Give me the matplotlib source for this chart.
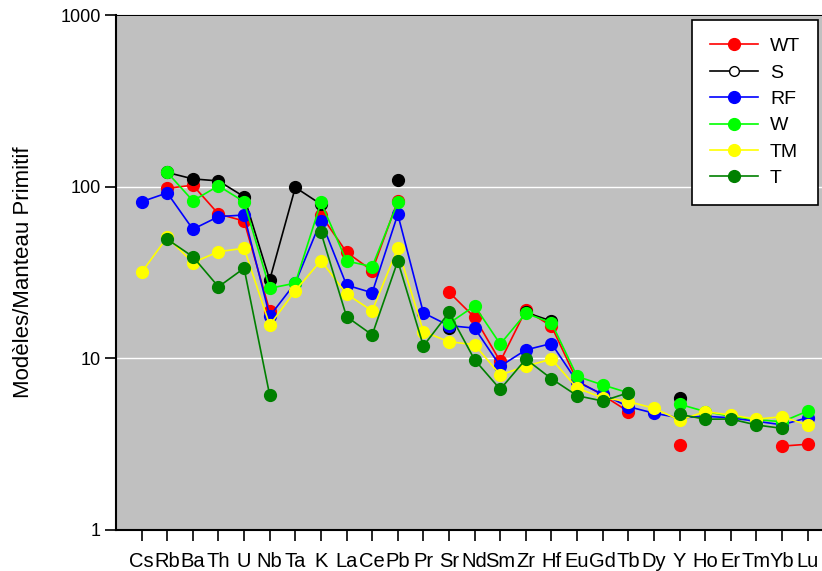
import numpy as np
import matplotlib
matplotlib.use("Agg")
from matplotlib import pyplot as plt
from matplotlib.lines import Line2D
from matplotlib.ticker import FixedLocator, NullLocator, FixedFormatter

nan = np.nan

# Elements along the x axis
elements = ["Cs", "Rb", "Ba", "Th", "U", "Nb", "Ta", "K", "La", "Ce", "Pb", "Pr", "Sr",
            "Nd", "Sm", "Zr", "Hf", "Eu", "Gd", "Tb", "Dy", "Y", "Ho", "Er", "Tm", "Yb", "Lu"]

# Normalised concentrations (nan = no value)
wt = [nan, 97.8, 102, 69.3, 63.1, 18.9, nan, 68.4, 41.5, 32.4, 82.8, nan, 24.3,
      17.3, 9.6, 19.1, 15.4, 7.4, 6.1, 4.9, nan, 3.13, nan, nan, nan, 3.08, 3.16]
s = [nan, 121, 111, 108, 87.4, 28.6, 99, 79, nan, nan, 109, nan, 15.1,
     nan, nan, 18.5, 16.5, nan, nan, nan, nan, 5.9, nan, nan, nan, nan, nan]
rf = [81.7, 92, 56.5, 66.9, 68.4, 17.6, 27.5, 63.4, 26.7, 24.1, 69, 18.4, 15.5,
      15.0, 9.0, 11.2, 12.2, 7.3, 6.17, 5.23, 4.79, 4.5, 4.6, 4.5, 4.3, 4.1, 4.51]
w = [nan, 121, 82.8, 101, 81.7, 25.6, 27.4, 81, 36.9, 34.2, 81, nan, 16.0,
     20.2, 12.1, 18.3, 16.1, 7.85, 7.0, 6.3, nan, 5.4, 4.9, 4.6, 4.4, 4.27, 4.93]
tm = [31.7, 50.7, 36.1, 41.8, 43.8, 15.6, 24.8, 37.1, 23.7, 18.9, 43.8, 14.3, 12.5,
      12.0, 8.0, 9.0, 9.9, 6.7, 5.9, 5.6, 5.12, 4.37, 4.89, 4.68, 4.42, 4.57, 4.09]
t = [nan, 49.4, 39.1, 26.1, 33.5, 6.1, nan, 54.2, 17.5, 13.7, 36.9, 11.8, 18.5,
     9.8, 6.6, 9.9, 7.6, 6.06, 5.64, 6.3, nan, 4.72, 4.42, 4.43, 4.09, 3.91, nan]

series = [("WT", wt, "#ff0000"), ("S", s, "#000000"), ("RF", rf, "#0000ff"),
          ("W", w, "#00ff00"), ("TM", tm, "#ffff00"), ("T", t, "#008000")]

plt.rcParams['font.family'] = ['Liberation Sans', 'DejaVu Sans']

fig = plt.figure(figsize=(8.22, 5.71), dpi=100)
ax = fig.add_axes([116/822, 41/571, 1 - 116/822, 515/571])
ax.set_facecolor("#c0c0c0")

x = np.arange(1, len(elements) + 1)
for name, vals, col in series:
    ax.plot(x, vals, color=col, lw=1.2, marker="o", ms=8.5, mec=col, mfc=col)

ax.set_yscale("log")
ax.set_ylim(1, 1000)
ax.set_xlim(0, 27.56)
ax.yaxis.set_major_locator(FixedLocator([1, 10, 100, 1000]))
ax.yaxis.set_major_formatter(FixedFormatter(["1", "10", "100", "1000"]))
ax.yaxis.set_minor_locator(NullLocator())
ax.set_xticks(x)
ax.set_xticklabels(elements)
ax.grid(axis="y", color="white", lw=1)
ax.set_axisbelow(True)

ax.tick_params(axis="both", direction="out", length=8, width=1.2, colors="black")
ax.tick_params(axis="x", pad=8, labelsize=14.5)
ax.tick_params(axis="y", pad=3, labelsize=13)
for sp in ["left", "bottom"]:
    ax.spines[sp].set_linewidth(1.5)
ax.spines["top"].set_linewidth(0.8)
ax.spines["right"].set_visible(False)

ax.set_ylabel("Modèles/Manteau Primitif", fontsize=16, labelpad=19)

# legend: S shown with open marker
handles = []
for name, vals, col in series:
    if name == "S":
        handles.append(Line2D([], [], color=col, lw=1.2, marker="o", ms=7, mfc="white", mec=col))
    else:
        handles.append(Line2D([], [], color=col, lw=1.2, marker="o", ms=8.5, mfc=col, mec=col))
leg = ax.legend(handles, [n for n, _, _ in series], loc="upper right",
                bbox_to_anchor=(0.994, 0.99), borderaxespad=0, fontsize=14,
                handlelength=2.5, handletextpad=0.6, labelspacing=0.45,
                borderpad=0.9, fancybox=False, framealpha=1, edgecolor="black")
leg.get_frame().set_linewidth(1.2)

fig.savefig("out.png", dpi=100)
